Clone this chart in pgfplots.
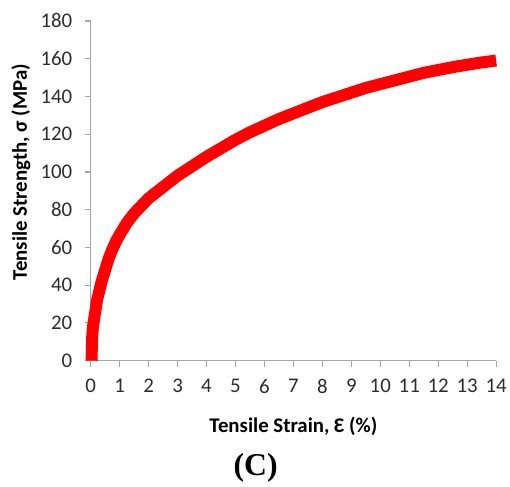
\documentclass[border=0pt]{standalone}
\usepackage{pgfplots}
\pgfplotsset{compat=1.18}
\usepackage{fontspec}
\setmainfont{Carlito}
\newfontfamily\timesfont{Liberation Serif}
\definecolor{axisgray}{RGB}{165,165,165}
\definecolor{ticktext}{RGB}{45,45,45}

\begin{document}
\begin{tikzpicture}
\begin{axis}[
    name=ax,
    scale only axis,
    width=407bp,
    height=341bp,
    xmin=0, xmax=14,
    ymin=0, ymax=180,
    xtick={0,1,...,14},
    ytick={0,20,...,180},
    axis lines=left,
    axis line style={draw=axisgray, line width=1.2bp, -},
    tick style={draw=axisgray, line width=1.2bp},
    tick align=outside,
    major tick length=6bp,
    /pgf/number format/assume math mode=true,
    ticklabel style={font=\fontsize{21}{23}\selectfont, text=ticktext},
    xticklabel style={yshift=-9bp},
    yticklabel style={xshift=-9bp},
    xlabel={Tensile Strain, Ɛ (\%)},
    ylabel={Tensile Strength, σ (MPa)},
    label style={font=\fontsize{21}{23}\selectfont\bfseries},
    xlabel style={at={(axis description cs:0.5,-0.194)}, anchor=center},
    ylabel style={at={(axis description cs:-0.172,0.555)}, anchor=center, rotate=0},
    clip=false
]

% stress-strain curve
\addplot[draw=red, line width=12bp, line join=round] coordinates {
    (0.03,0) (0.05,12) (0.08,18) (0.12,22) (0.16,26) (0.22,32)
    (0.3,37) (0.38,42) (0.5,48) (0.62,54) (0.75,59) (0.9,64)
    (1.05,68) (1.25,73) (1.5,78) (1.75,82) (2,86) (2.5,92)
    (3,98) (3.5,103) (4,108) (4.5,112.5) (5,117) (5.5,121)
    (6,124.5) (6.5,128) (7,131) (7.5,134) (8,137) (8.5,139.5)
    (9,142) (9.5,144.5) (10,146.5) (10.5,148.5) (11,150.5)
    (11.5,152.5) (12,154) (12.5,155.5) (13,156.8) (13.5,158) (14,159)
};

\node[font=\timesfont\bfseries\fontsize{32}{34}\selectfont]
    at (axis description cs:0.407,-0.317) {(C)};
\end{axis}
\useasboundingbox ([shift={(-91bp,-119bp)}]ax.south west)
    rectangle ([shift={(12bp,21bp)}]ax.north east);
\end{tikzpicture}
\end{document}
